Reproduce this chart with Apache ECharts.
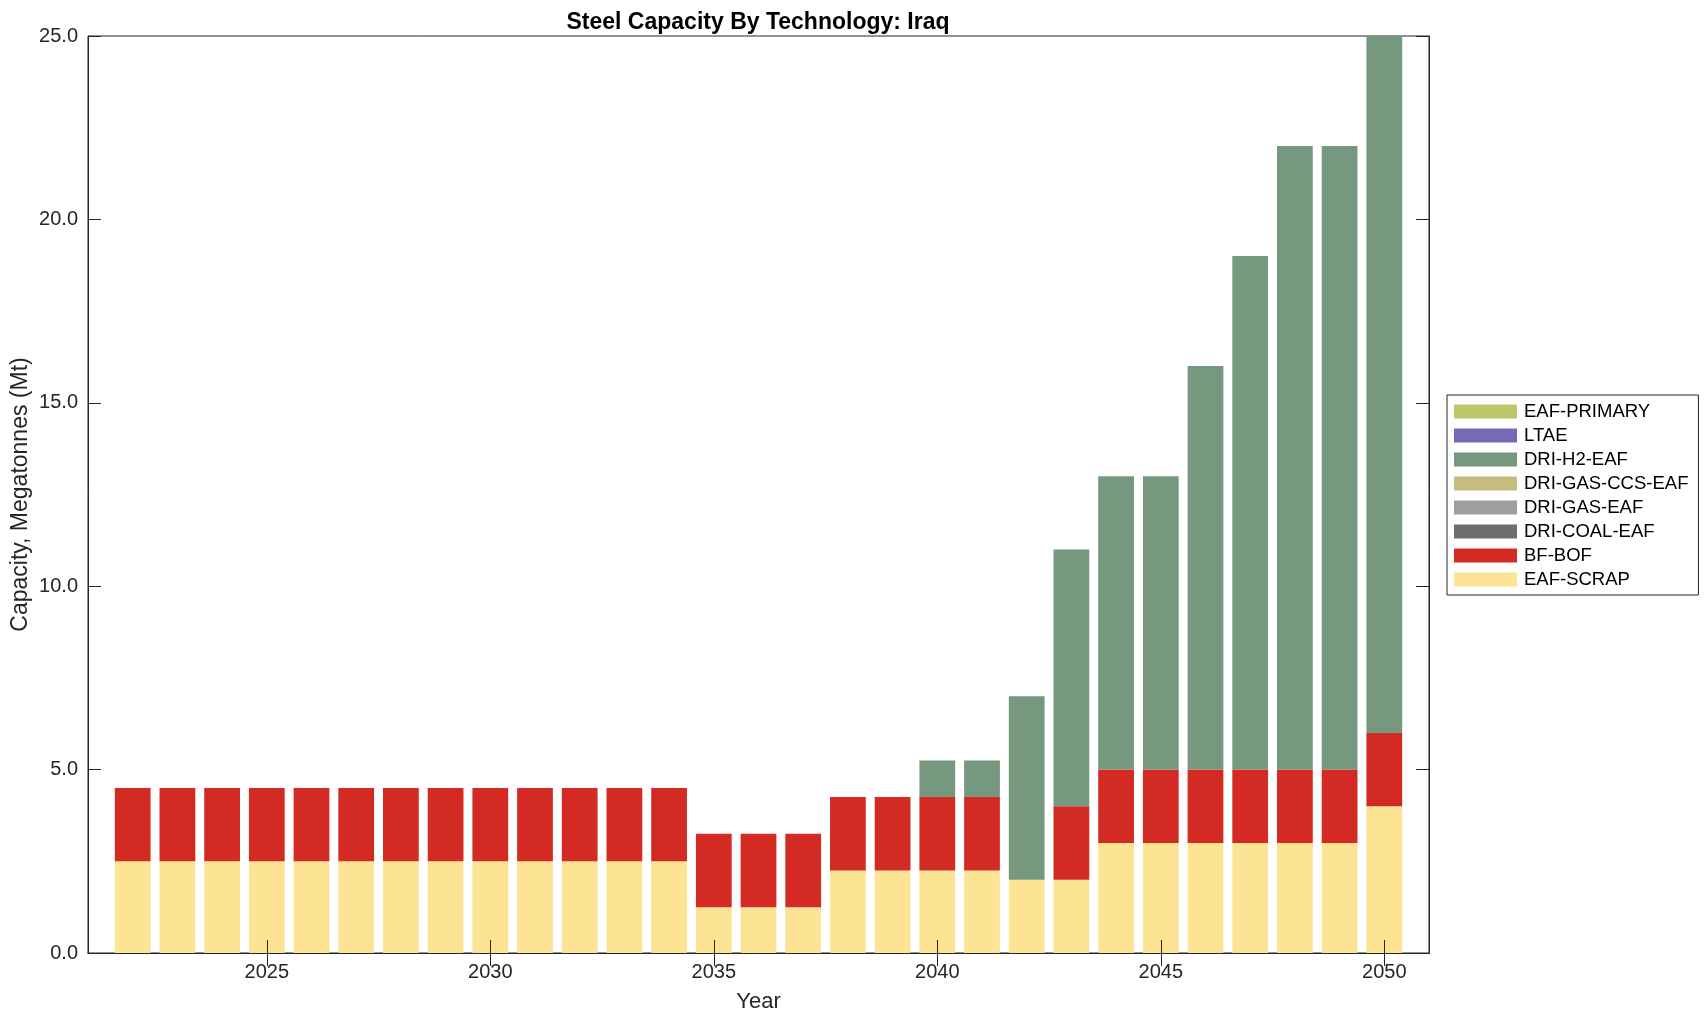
<!DOCTYPE html>
<html>
<head>
<meta charset="utf-8">
<script src="https://cdn.jsdelivr.net/npm/echarts@6/dist/echarts.min.js"></script>
<style>
  html, body { margin: 0; padding: 0; background: #fff; }
  #chart { width: 1708px; height: 1021px; }
</style>
</head>
<body>
<div id="chart"></div>
<script>
// ---- Data ----
const years = [2022, 2023, 2024, 2025, 2026, 2027, 2028, 2029, 2030, 2031, 2032, 2033, 2034,
               2035, 2036, 2037, 2038, 2039, 2040, 2041, 2042, 2043, 2044, 2045, 2046, 2047,
               2048, 2049, 2050];
const eafScrap   = [2.5, 2.5, 2.5, 2.5, 2.5, 2.5, 2.5, 2.5, 2.5, 2.5, 2.5, 2.5, 2.5,
                    1.25, 1.25, 1.25, 2.25, 2.25, 2.25, 2.25, 2, 2, 3, 3, 3, 3, 3, 3, 4];
const bfBof      = [2, 2, 2, 2, 2, 2, 2, 2, 2, 2, 2, 2, 2,
                    2, 2, 2, 2, 2, 2, 2, 0, 2, 2, 2, 2, 2, 2, 2, 2];
const driCoalEaf = [0, 0, 0, 0, 0, 0, 0, 0, 0, 0, 0, 0, 0,
                    0, 0, 0, 0, 0, 0, 0, 0, 0, 0, 0, 0, 0, 0, 0, 0];
const driGasEaf  = [0, 0, 0, 0, 0, 0, 0, 0, 0, 0, 0, 0, 0,
                    0, 0, 0, 0, 0, 0, 0, 0, 0, 0, 0, 0, 0, 0, 0, 0];
const driGasCcsEaf = [0, 0, 0, 0, 0, 0, 0, 0, 0, 0, 0, 0, 0,
                    0, 0, 0, 0, 0, 0, 0, 0, 0, 0, 0, 0, 0, 0, 0, 0];
const driH2Eaf   = [0, 0, 0, 0, 0, 0, 0, 0, 0, 0, 0, 0, 0,
                    0, 0, 0, 0, 0, 1, 1, 5, 7, 8, 8, 11, 14, 17, 17, 19];
const ltae       = [0, 0, 0, 0, 0, 0, 0, 0, 0, 0, 0, 0, 0,
                    0, 0, 0, 0, 0, 0, 0, 0, 0, 0, 0, 0, 0, 0, 0, 0];
const eafPrimary = [0, 0, 0, 0, 0, 0, 0, 0, 0, 0, 0, 0, 0,
                    0, 0, 0, 0, 0, 0, 0, 0, 0, 0, 0, 0, 0, 0, 0, 0];

const xTicks = [2025, 2030, 2035, 2040, 2045, 2050];
const seriesNames = ['EAF-SCRAP', 'BF-BOF', 'DRI-COAL-EAF', 'DRI-GAS-EAF',
                     'DRI-GAS-CCS-EAF', 'DRI-H2-EAF', 'LTAE', 'EAF-PRIMARY'];
const seriesValues = [eafScrap, bfBof, driCoalEaf, driGasEaf, driGasCcsEaf, driH2Eaf, ltae, eafPrimary];
const seriesColors = ['#fde394', '#d32a24', '#6e6e6e', '#9e9e9e', '#c6bc7e', '#76987e', '#756ab8', '#bdc66a'];

const FONT = '"Liberation Sans", Arial, Helvetica, sans-serif';
const AX = '#262626';

// Axis spans one year of padding on each side of the data (like the reference limits).
const cats = [years[0] - 1].concat(years, [years[years.length - 1] + 1]).map(String);
const isTick = (idx, val) => xTicks.indexOf(Number(val)) >= 0;

const chart = echarts.init(document.getElementById('chart'), null, { renderer: 'canvas' });

const series = seriesNames.map((name, i) => ({
  name: name,
  type: 'bar',
  stack: 'total',
  barWidth: '80%',
  itemStyle: { color: seriesColors[i] },
  emphasis: { disabled: true },
  data: [null].concat(seriesValues[i], [null])
}));

const tickStyle = { show: true, inside: true, length: 13, lineStyle: { color: AX, width: 1 } };

chart.setOption({
  animation: false,
  backgroundColor: '#fff',
  textStyle: { fontFamily: FONT },
  title: {
    text: 'Steel Capacity By Technology: Iraq',
    left: 753,
    top: 6,
    textAlign: 'center',
    textStyle: { fontFamily: FONT, fontSize: 23, fontWeight: 'bold', color: '#000' }
  },
  grid: {
    left: 88, right: 279, top: 36, bottom: 68,
    show: true, borderColor: AX, borderWidth: 1, backgroundColor: 'transparent',
    containLabel: false, outerBoundsMode: 'none'
  },
  legend: {
    orient: 'vertical',
    left: 1447,
    top: 395,
    data: seriesNames.slice().reverse(),
    itemWidth: 63,
    itemHeight: 14,
    itemGap: 5,
    padding: [7, 10, 6, 7],
    borderColor: AX,
    borderWidth: 1,
    backgroundColor: '#fff',
    icon: 'rect',
    selectedMode: false,
    textStyle: { fontFamily: FONT, fontSize: 18.5, lineHeight: 18, color: '#000', padding: [0, 0, 0, 2] }
  },
  xAxis: [
    {
      type: 'category',
      data: cats,
      boundaryGap: false,
      position: 'bottom',
      z: 10,
      name: 'Year',
      nameLocation: 'middle',
      nameGap: 38,
      nameMoveOverlap: false,
      nameTextStyle: { fontFamily: FONT, fontSize: 22, color: AX },
      axisLine: { show: true, lineStyle: { color: AX } },
      axisTick: Object.assign({}, tickStyle, { interval: isTick }),
      axisLabel: { interval: isTick, fontFamily: FONT, fontSize: 20, color: AX, margin: 9 },
      splitLine: { show: false }
    },
    {
      type: 'category',
      data: cats,
      boundaryGap: false,
      position: 'top',
      z: 10,
      axisLine: { show: true, lineStyle: { color: AX } },
      axisTick: Object.assign({}, tickStyle, { interval: isTick }),
      axisLabel: { show: false },
      splitLine: { show: false }
    }
  ],
  yAxis: [
    {
      type: 'value',
      position: 'left',
      min: 0, max: 25, interval: 5,
      z: 10,
      name: 'Capacity, Megatonnes (Mt)',
      nameLocation: 'middle',
      nameGap: 56,
      nameMoveOverlap: false,
      nameTextStyle: { fontFamily: FONT, fontSize: 23, color: AX },
      axisLine: { show: true, lineStyle: { color: AX } },
      axisTick: tickStyle,
      axisLabel: { fontFamily: FONT, fontSize: 20, color: AX, margin: 10,
                   formatter: v => v.toFixed(1) },
      splitLine: { show: false }
    },
    {
      type: 'value',
      position: 'right',
      min: 0, max: 25, interval: 5,
      z: 10,
      axisLine: { show: true, lineStyle: { color: AX } },
      axisTick: tickStyle,
      axisLabel: { show: false },
      splitLine: { show: false }
    }
  ],
  series: series
});
</script>
</body>
</html>
